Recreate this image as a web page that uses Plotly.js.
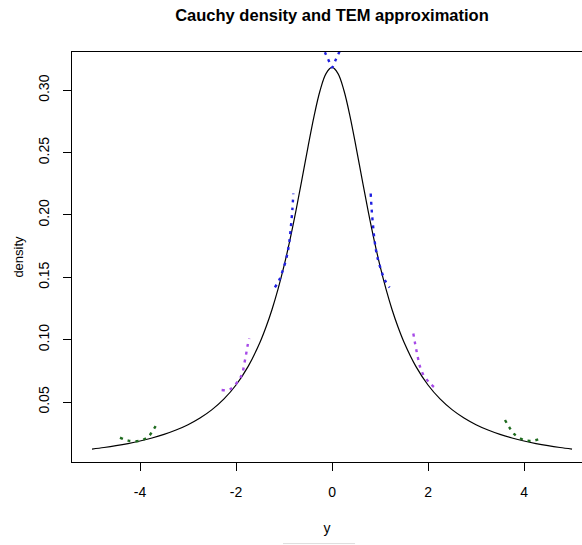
<!DOCTYPE html>
<html>
<head>
<meta charset="utf-8">
<script src="https://cdn.plot.ly/plotly-3.0.1.min.js"></script>
<style>html,body{margin:0;padding:0;background:#fff;}#chart{width:582px;height:545px;}</style>
</head>
<body>
<div id="chart"></div>
<script>
// Cauchy density curve
var cauchyX = [-5,-4.75,-4.5,-4.25,-4,-3.75,-3.5,-3.25,-3,-2.75,-2.5,-2.25,-2,-1.75,-1.5,-1.375,-1.25,-1.125,-1,-0.875,-0.75,-0.625,-0.5,-0.375,-0.25,-0.125,0,
  0.125,0.25,0.375,0.5,0.625,0.75,0.875,1,1.125,1.25,1.375,1.5,1.75,2,2.25,2.5,2.75,3,3.25,3.5,3.75,4,4.25,4.5,4.75,5];
var cauchyY = [0.01224,0.01351,0.01498,0.01670,0.01872,0.02113,0.02402,0.02753,0.03183,0.03717,0.04390,0.05250,0.06366,0.07835,0.09794,0.11012,0.12422,0.14049,0.15915,0.18028,0.20372,0.22890,0.25465,0.27907,0.29959,0.31341,0.31831,
  0.31341,0.29959,0.27907,0.25465,0.22890,0.20372,0.18028,0.15915,0.14049,0.12422,0.11012,0.09794,0.07835,0.06366,0.05250,0.04390,0.03717,0.03183,0.02753,0.02402,0.02113,0.01872,0.01670,0.01498,0.01351,0.01224];

// TEM approximation pieces
var tem0X = [-0.22,-0.125,-0.065,0,0.065,0.125,0.22];
var tem0Y = [0.3365,0.3285,0.3235,0.3183,0.3235,0.3285,0.3365];

var tem1LX = [-1.19,-1.10,-1.035,-0.944,-0.89,-0.854,-0.827,-0.806];
var tem1LY = [0.1419,0.1478,0.1544,0.1664,0.1784,0.1918,0.2038,0.2172];
var tem1RX = [0.806,0.827,0.854,0.89,0.944,1.035,1.10,1.20];
var tem1RY = [0.2172,0.2038,0.1918,0.1784,0.1664,0.1544,0.1478,0.1419];

var tem2LX = [-2.30,-2.125,-1.917,-1.861,-1.826,-1.792,-1.764,-1.723];
var tem2LY = [0.0596,0.0602,0.0690,0.0743,0.0810,0.0877,0.0943,0.1010];
var tem2RX = [1.694,1.73,1.764,1.80,1.833,1.889,2.042,2.20];
var tem2RY = [0.1050,0.0970,0.0903,0.0836,0.0783,0.0729,0.0649,0.0596];

var tem4LX = [-4.417,-4.244,-4.0,-3.827,-3.735,-3.64];
var tem4LY = [0.0214,0.0190,0.0190,0.0222,0.0270,0.0329];
var tem4RX = [3.604,3.694,3.792,4.0,4.194,4.348];
var tem4RY = [0.0356,0.0297,0.0244,0.0195,0.0190,0.0209];

var xTicks = [-4,-2,0,2,4];
var xTickText = ["-4","-2","0","2","4"];
var yTicks = [0.05,0.10,0.15,0.20,0.25,0.30];
var yTickText = ["0.05","0.10","0.15","0.20","0.25","0.30"];

var dotStyle = function(c){ return {color:c, width:2.4, dash:"3px,5px", shape:"spline"}; };
var blue = "#1f1fe0", purple = "#a64ae8", green = "#1e6b1e";

var traces = [
  {x:cauchyX, y:cauchyY, mode:"lines", line:{color:"#000", width:1.2, shape:"spline"}, hoverinfo:"skip"},
  {x:tem0X, y:tem0Y, mode:"lines", line:dotStyle(blue)},
  {x:tem1LX, y:tem1LY, mode:"lines", line:dotStyle(blue)},
  {x:tem1RX, y:tem1RY, mode:"lines", line:dotStyle(blue)},
  {x:tem2LX, y:tem2LY, mode:"lines", line:dotStyle(purple)},
  {x:tem2RX, y:tem2RY, mode:"lines", line:dotStyle(purple)},
  {x:tem4LX, y:tem4LY, mode:"lines", line:dotStyle(green)},
  {x:tem4RX, y:tem4RY, mode:"lines", line:dotStyle(green)}
];

var font = "Liberation Sans, Arial, Helvetica, sans-serif";
var layout = {
  width:582, height:545,
  margin:{l:72, r:0, t:52, b:83},
  paper_bgcolor:"#fff", plot_bgcolor:"#fff",
  showlegend:false,
  font:{family:font, size:14, color:"#000"},
  title:{text:"<b>Cauchy density and TEM approximation</b>", font:{family:font, size:16.5, color:"#000"},
         xref:"container", yref:"container", x:0.5704, xanchor:"center", y:0.9725, yanchor:"middle"},
  xaxis:{range:[-5.417,5.208], tickvals:xTicks, ticktext:xTickText, ticks:"outside", ticklen:8, tickcolor:"#000",
         showline:true, mirror:true, linecolor:"#000", linewidth:1, showgrid:false, zeroline:false,
         tickfont:{family:font, size:14}, ticklabelstandoff:9,
         title:{text:"y", font:{family:font, size:14}, standoff:24}},
  yaxis:{range:[0.0019,0.3307], tickvals:yTicks, ticktext:yTickText, ticks:"outside", ticklen:8, tickcolor:"#000",
         tickangle:-90, showline:true, linecolor:"#000", linewidth:1, showgrid:false, zeroline:false,
         tickfont:{family:font, size:14}, ticklabelstandoff:8,
         title:{text:"density", font:{family:font, size:13}, standoff:9}},
  shapes:[
    {type:"line", xref:"paper", yref:"paper", x0:0.4137, x1:0.555, y0:-0.199, y1:-0.199, line:{color:"#dddddd", width:1}}
  ]
};
Plotly.newPlot("chart", traces, layout, {displayModeBar:false, staticPlot:true});
</script>
</body>
</html>
